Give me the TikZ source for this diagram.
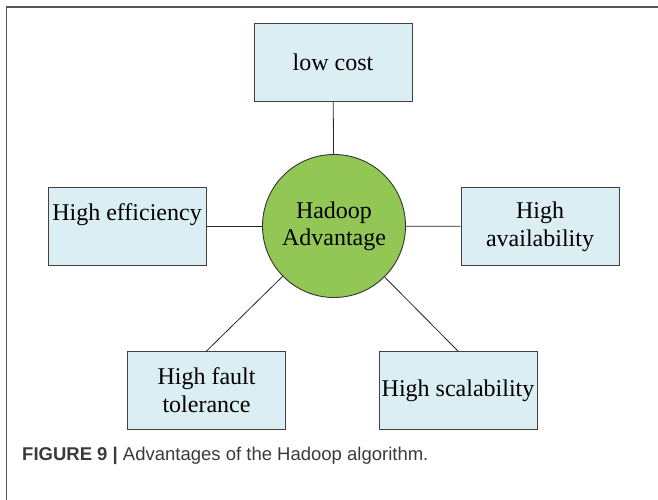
\documentclass[tikz,border=0pt]{standalone}
\usepackage{fontspec}
\setmainfont{Liberation Serif}
\setsansfont{Liberation Sans}
\usepackage{tikz}
\usetikzlibrary{positioning}
\definecolor{boxblue}{HTML}{DAEEF3}
\definecolor{hubgreen}{HTML}{92C755}
\definecolor{framegray}{HTML}{555555}
\definecolor{captiongray}{HTML}{3A3A3A}
\tikzset{featbox/.style={draw=black!75, line width=0.9pt, fill=boxblue, minimum width=158pt, minimum height=78pt, inner sep=1pt, align=center, font=\fontsize{24}{28}\selectfont}}
\tikzset{hubnode/.style={draw=black!80, line width=0.9pt, circle, fill=hubgreen, minimum size=143pt, inner sep=0pt, align=center, font=\fontsize{24}{27}\selectfont}}
\tikzset{spoke/.style={draw=black!85, line width=0.8pt}}

\begin{document}
\begin{tikzpicture}[x=1pt, y=-1pt]
    \useasboundingbox (0,0) rectangle (658,500);
    \draw [framegray, line width=1pt] (6.5,500) -- (6.5,7);
    \draw [framegray, line width=1.6pt] (6,7) -- (658,7);

    \node [hubnode] at (334,226) (hub){Hadoop\\Advantage};

    \node [featbox] at (333,62) (cost){low cost};
    \node [featbox] at (127,226) (eff){High efficiency\\\mbox{}};
    \node [featbox] at (540,226.5) (avail){High\\availability};
    \node [featbox] at (206.5,390.5) (fault){High fault\\tolerance};
    \node [featbox] at (458,390.5) (scal){High scalability};

    \draw [spoke] (cost) -- (hub);
    \draw [spoke] (eff) -- (hub);
    \draw [spoke] (hub) -- (avail);
    \draw [spoke] (hub) -- (fault.north);
    \draw [spoke] (hub) -- (scal.north);

    \node [anchor=west, inner sep=0pt, text=captiongray, font=\sffamily\fontsize{18.5}{22}\selectfont] at (22,456) (caption){\textbf{FIGURE 9 |} Advantages of the Hadoop algorithm.};
\end{tikzpicture}
\end{document}
